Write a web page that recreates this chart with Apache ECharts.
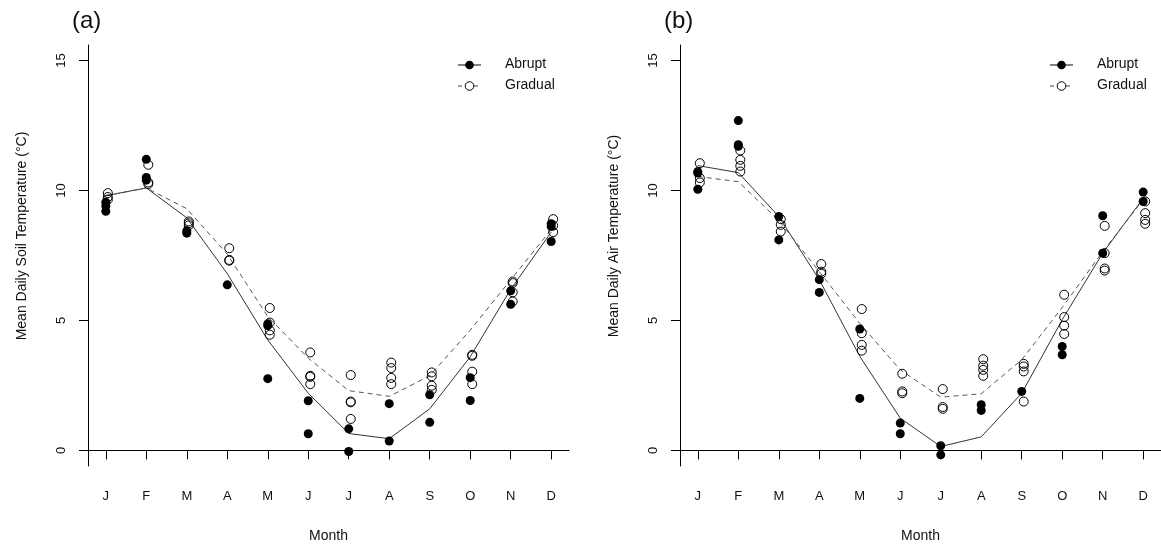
<!DOCTYPE html>
<html>
<head>
<meta charset="utf-8">
<script src="https://cdn.jsdelivr.net/npm/echarts@6/dist/echarts.min.js"></script>
<style>
html,body{margin:0;padding:0;background:#fff;}
#chart{width:1161px;height:550px;}
</style>
</head>
<body>
<div id="chart"></div>
<script>
// ---- data ----
const months = ['J','F','M','A','M','J','J','A','S','O','N','D'];
const yTicks = [0, 5, 10, 15];

// Panel (a): soil temperature
const soilAbruptPts = [
  [9.2, 9.4, 9.55], [11.2, 10.5, 10.4], [8.36, 8.45], [6.37], [4.87, 4.8, 2.76], [1.91, 0.64],
  [0.83, -0.04], [1.8, 0.36], [2.14, 1.08], [2.8, 1.92], [6.14, 5.62], [8.72, 8.62, 8.04]
];
const soilGradualPts = [
  [9.65, 9.75, 9.9], [10.99, 10.31, 10.25], [8.81, 8.74, 8.66], [7.78, 7.33, 7.3], [5.48, 4.92, 4.62, 4.45], [3.77, 2.87, 2.83, 2.55],
  [2.9, 1.88, 1.85, 1.21], [3.38, 3.17, 2.79, 2.55], [3.0, 2.85, 2.49, 2.33], [3.68, 3.64, 3.03, 2.55], [6.5, 6.44, 6.08, 5.73], [8.9, 8.65, 8.4]
];
const soilAbruptLine  = [9.8, 10.1, 8.95, 6.8, 4.25, 2.2, 0.65, 0.45, 1.6, 3.6, 6.2, 8.4];
const soilGradualLine = [9.8, 10.1, 9.3, 7.55, 5.15, 3.55, 2.3, 2.08, 2.87, 4.63, 6.56, 8.5];

// Panel (b): air temperature
const airAbruptPts = [
  [10.73, 10.67, 10.05], [12.69, 11.76, 11.7], [9.0, 8.1], [6.57, 6.08], [4.67, 2.0], [1.05, 0.64],
  [0.18, -0.17], [1.76, 1.54], [2.27], [4.0, 3.68], [9.03, 7.59], [9.94, 9.58]
];
const airGradualPts = [
  [11.05, 10.48, 10.31], [11.54, 11.18, 10.95, 10.73], [8.9, 8.68, 8.42], [7.17, 6.88, 6.8], [5.44, 4.51, 4.06, 3.84], [2.95, 2.27, 2.2],
  [2.36, 1.67, 1.6], [3.51, 3.26, 3.1, 2.87], [3.33, 3.23, 3.04, 1.88], [5.99, 5.13, 4.8, 4.48], [8.64, 7.59, 7.0, 6.92], [9.58, 9.13, 8.87, 8.72]
];
const airAbruptLine  = [10.96, 10.69, 9.0, 6.57, 3.62, 1.24, 0.15, 0.52, 2.2, 5.03, 7.59, 9.7];
const airGradualLine = [10.54, 10.34, 8.85, 6.88, 4.89, 3.1, 2.05, 2.18, 3.49, 5.5, 7.65, 9.65];

const panelLabels = ['(a)', '(b)'];
const yTitles = ['Mean Daily Soil Temperature (\u00B0C)', 'Mean Daily Air Temperature (\u00B0C)'];
const xTitle = 'Month';
const legendNames = ['Abrupt', 'Gradual'];

// ---- build ----
const FONT = '"Liberation Sans", Arial, Helvetica, sans-serif';
const TXT = '#111';
const monthVals = months.map((m, i) => i + 1);
function pts(arr) {
  const out = [];
  arr.forEach((vals, i) => vals.forEach(v => out.push([i + 1, v])));
  return out;
}
function line(arr) { return arr.map((v, i) => [i + 1, v]); }

const grids = [
  {left: 88, top: 45, width: 481, height: 421},
  {left: 680, top: 45, width: 481, height: 421}
];
const xAxes = [], yAxes = [];
[0, 1].forEach(k => {
  xAxes.push({
    type: 'value', gridIndex: k, min: 0.56, max: 12.44,
    name: xTitle, nameLocation: 'middle', nameGap: 63,
    nameTextStyle: {fontFamily: FONT, fontSize: 14, color: TXT},
    axisLine: {show: true, lineStyle: {color: '#000', width: 1}},
    axisTick: {show: true, inside: false, length: 9, customValues: monthVals, lineStyle: {color: '#000'}},
    axisLabel: {customValues: monthVals, margin: 24, fontFamily: FONT, fontSize: 13, color: TXT,
      formatter: v => months[Math.round(v) - 1] || ''},
    splitLine: {show: false}
  });
  yAxes.push({
    type: 'value', gridIndex: k, min: -0.6, max: 15.6,
    axisLine: {show: true, lineStyle: {color: '#000', width: 1}},
    axisTick: {show: true, inside: false, length: 9, customValues: yTicks, lineStyle: {color: '#000'}},
    axisLabel: {customValues: yTicks, rotate: 90, margin: 20, fontFamily: FONT, fontSize: 13, color: TXT},
    splitLine: {show: false}
  });
});

function seriesFor(k, aPts, gPts, aLine, gLine) {
  return [
    {type: 'line', xAxisIndex: k, yAxisIndex: k, data: line(aLine), showSymbol: false, symbol: 'none',
      lineStyle: {color: '#333', width: 1, type: 'solid'}, z: 2, animation: false, silent: true},
    {type: 'line', xAxisIndex: k, yAxisIndex: k, data: line(gLine), showSymbol: false, symbol: 'none',
      lineStyle: {color: '#555', width: 1, type: [5, 4]}, z: 2, animation: false, silent: true},
    {type: 'scatter', xAxisIndex: k, yAxisIndex: k, data: pts(gPts), symbol: 'circle', symbolSize: 9,
      symbolOffset: [2, 0],
      itemStyle: {color: 'rgba(255,255,255,0)', borderColor: '#000', borderWidth: 1, opacity: 1}, z: 3, animation: false, silent: true},
    {type: 'scatter', xAxisIndex: k, yAxisIndex: k, data: pts(aPts), symbol: 'circle', symbolSize: 9,
      itemStyle: {color: '#000', borderColor: '#000', borderWidth: 0, opacity: 1}, z: 4, animation: false, silent: true}
  ];
}

const graphics = [];
[0, 592].forEach((dx, k) => {
  graphics.push({type: 'text', left: 72 + dx, top: 9,
    style: {text: panelLabels[k], font: '24px ' + FONT, fill: TXT}});
  // y-axis title
  graphics.push({type: 'text', x: 22 + dx, y: 236, rotation: Math.PI / 2,
    style: {text: yTitles[k], font: '14px ' + FONT, fill: TXT, align: 'center', verticalAlign: 'middle'}});
  // legend
  graphics.push({type: 'line', shape: {x1: 458 + dx, y1: 65, x2: 481 + dx, y2: 65}, style: {stroke: '#000', lineWidth: 1}});
  graphics.push({type: 'circle', shape: {cx: 469.5 + dx, cy: 65, r: 4.3}, style: {fill: '#000'}});
  graphics.push({type: 'text', left: 505 + dx, top: 57, style: {text: legendNames[0], font: '14px ' + FONT, fill: TXT}});
  graphics.push({type: 'line', shape: {x1: 458 + dx, y1: 86, x2: 481 + dx, y2: 86}, style: {stroke: '#444', lineWidth: 1, lineDash: [4, 4]}});
  graphics.push({type: 'circle', shape: {cx: 469.5 + dx, cy: 86, r: 4.3}, style: {fill: '#fff', stroke: '#000', lineWidth: 1}});
  graphics.push({type: 'text', left: 505 + dx, top: 78, style: {text: legendNames[1], font: '14px ' + FONT, fill: TXT}});
});

const chart = echarts.init(document.getElementById('chart'));
chart.setOption({
  backgroundColor: '#fff',
  animation: false,
  grid: grids,
  xAxis: xAxes,
  yAxis: yAxes,
  series: [].concat(
    seriesFor(0, soilAbruptPts, soilGradualPts, soilAbruptLine, soilGradualLine),
    seriesFor(1, airAbruptPts, airGradualPts, airAbruptLine, airGradualLine)
  ),
  graphic: graphics
});
</script>
</body>
</html>
